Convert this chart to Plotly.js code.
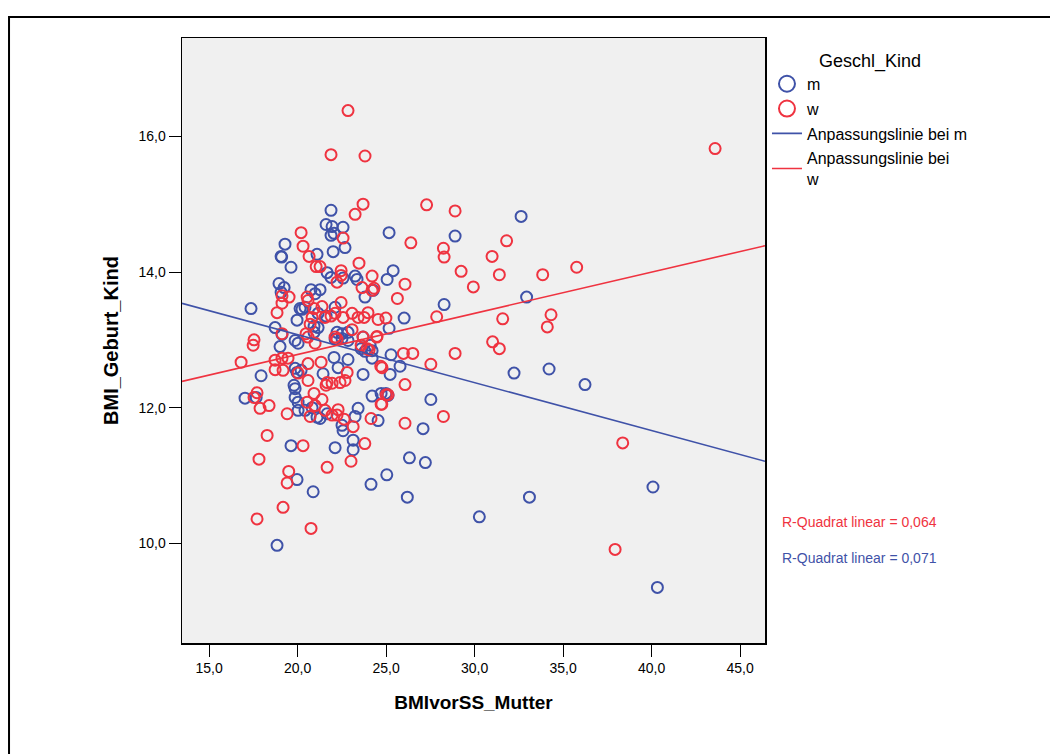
<!DOCTYPE html>
<html>
<head>
<meta charset="utf-8">
<script src="https://cdn.plot.ly/plotly-3.0.1.min.js"></script>
<style>html,body{margin:0;padding:0;background:#fff;}#chart{width:1050px;height:754px;}</style>
</head>
<body>
<div id="chart"></div>
<script>
// BMI of mother before pregnancy (x) vs BMI of child at birth (y)
const mX = [17.37,17.03,17.66,17.94,18.73,18.95,19.07,19.24,19.01,19.07,19.10,19.29,19.63,19.97,20.14,19.86,20.20,19.97,19.80,19.86,19.86,20.03,20.03,20.42,19.63,19.97,20.88,18.84,22.12,23.14,23.14,24.15,22.57,20.76,21.27,20.99,21.10,20.42,20.25,21.16,21.61,22.12,20.93,21.16,19.12,19.86,20.03,20.93,22.23,22.51,22.85,22.12,22.51,22.85,23.70,24.10,24.21,23.59,23.81,25.28,24.21,25.79,25.23,21.44,22.29,22.85,22.06,23.70,20.82,21.10,21.27,21.67,22.51,23.25,23.42,24.21,24.55,24.72,24.99,25.11,27.09,26.32,27.22,25.04,26.20,30.27,33.10,40.08,40.33,21.89,21.61,21.95,22.57,21.89,22.06,22.68,22.01,21.67,21.89,22.57,23.25,23.36,23.81,25.17,25.06,25.40,26.02,25.17,24.27,32.94,28.28,32.23,34.21,27.53,36.24,32.63,28.90];
const mY = [13.46,12.14,12.15,12.47,13.18,13.83,13.70,13.77,12.90,14.23,14.22,14.41,14.07,13.29,13.46,12.58,12.55,12.52,12.33,12.28,12.15,12.08,11.96,11.96,11.44,10.94,10.76,9.97,11.41,11.52,11.38,10.87,11.66,13.74,13.74,13.68,14.26,13.48,13.45,13.39,13.35,13.48,13.20,13.18,13.08,12.99,12.95,13.11,13.11,13.09,13.11,13.01,13.02,12.99,13.04,12.92,12.84,12.87,12.83,12.78,12.73,12.61,12.49,12.50,12.59,12.71,12.74,12.49,12.00,11.86,11.84,11.91,11.74,11.87,11.99,12.17,11.81,12.21,12.21,12.18,11.69,11.26,11.19,11.01,10.68,10.39,10.68,10.83,9.35,14.91,14.70,14.67,14.66,14.54,14.57,14.36,14.30,13.99,13.92,13.91,13.94,13.89,13.63,14.58,13.89,14.02,13.32,13.17,13.73,13.63,13.52,12.51,12.57,12.12,12.34,14.82,14.53];
const wX = [22.85,21.89,23.81,43.59,23.70,27.29,28.90,23.25,20.20,22.57,31.81,26.40,20.31,28.24,28.28,30.99,20.65,21.05,21.27,22.46,23.47,29.24,31.40,33.85,35.77,29.93,26.07,25.64,22.23,22.46,23.64,24.21,24.32,24.21,27.86,31.59,34.32,34.11,24.47,25.98,26.51,28.90,31.02,31.40,27.53,24.70,26.07,25.00,24.76,26.07,28.24,38.37,37.94,16.81,17.54,17.49,17.71,17.54,17.88,18.39,18.28,17.82,20.31,19.50,19.41,19.18,17.71,20.76,21.67,23.02,23.80,18.84,19.12,19.52,19.12,18.73,19.12,19.46,18.73,19.18,19.41,20.54,20.59,20.93,21.38,22.46,22.12,21.89,21.55,22.57,23.08,23.42,23.76,23.98,20.82,20.71,24.55,24.99,23.08,23.70,22.12,20.48,20.59,19.12,20.99,22.23,24.49,23.59,23.93,24.77,20.03,20.59,20.59,21.33,22.80,22.68,22.40,21.95,21.67,21.61,20.93,21.38,20.99,20.54,20.71,21.55,22.29,22.63,23.14,22.23,21.95,25.11,24.72,24.15,24.04];
const wY = [16.38,15.73,15.71,15.82,15.00,14.99,14.90,14.85,14.58,14.50,14.46,14.43,14.38,14.35,14.22,14.23,14.23,14.08,14.08,14.02,14.13,14.01,13.96,13.96,14.07,13.78,13.82,13.61,13.85,13.95,13.77,13.94,13.76,13.73,13.34,13.31,13.37,13.19,13.04,12.80,12.80,12.80,12.97,12.87,12.64,12.61,12.34,12.19,12.05,11.77,11.87,11.48,9.91,12.67,13.00,12.92,12.22,12.15,11.99,12.03,11.59,11.24,11.44,11.06,10.89,10.53,10.36,10.22,11.12,11.21,11.47,13.40,13.65,13.63,13.54,12.70,12.73,12.73,12.56,12.55,11.91,13.63,13.58,13.46,13.49,13.55,13.39,13.35,13.33,13.33,13.39,13.33,13.33,13.40,13.33,13.23,13.30,13.32,13.15,13.04,13.04,13.09,13.04,13.09,12.95,13.01,13.05,12.92,12.87,12.59,12.51,12.65,12.40,12.67,12.52,12.40,12.37,12.36,12.37,12.33,12.21,12.12,12.03,12.08,11.87,11.96,11.97,11.83,11.72,11.89,11.89,12.19,12.05,11.84,12.85];

// Fit lines (intercept, slope)
const fitM = [14.49, -0.0707];
const fitW = [11.57, 0.0607];
const xRange = [13.47, 46.41];
const yRange = [8.53, 17.45];
const xTicks = [15, 20, 25, 30, 35, 40, 45];
const yTicks = [10, 12, 14, 16];
const rSquared = ['0,064', '0,071'];

const BLUE = '#3f52a8';
const RED = '#ef3340';
const FONT = 'Liberation Sans, Arial, sans-serif';

const pts = (x, y, c) => ({
  type: 'scatter', mode: 'markers', x: x, y: y, showlegend: false, hoverinfo: 'skip',
  marker: {symbol: 'circle-open', size: 11, color: c, line: {width: 2, color: c}}
});
const fit = (p, c) => ({
  type: 'scatter', mode: 'lines', x: xRange, y: xRange.map(v => p[0] + p[1] * v),
  showlegend: false, hoverinfo: 'skip', line: {color: c, width: 1.6}
});
const legM = (name, c, g) => ({type: 'scatter', mode: 'markers', x: [null], y: [null], name: name, legendgroup: g,
  marker: {symbol: 'circle-open', size: 16, color: c, line: {width: 2, color: c}}});
const legL = (name, c, g) => ({type: 'scatter', mode: 'lines', x: [null], y: [null], name: name, legendgroup: g,
  line: {color: c, width: 1.6}});

const data = [
  pts(mX, mY, BLUE), pts(wX, wY, RED), fit(fitM, BLUE), fit(fitW, RED),
  legM('m', BLUE, 'a'), legM('w', RED, 'b'),
  legL('Anpassungslinie bei m', BLUE, 'c'), legL('Anpassungslinie bei<br>w', RED, 'd')
];

const layout = {
  width: 1050, height: 754,
  margin: {l: 182, r: 285, t: 38, b: 111},
  paper_bgcolor: '#ffffff', plot_bgcolor: '#f0f0f0',
  separators: ',.',
  font: {family: FONT, size: 13, color: '#000'},
  xaxis: {
    range: xRange, tickvals: xTicks, tickformat: '.1f', ticks: 'outside', ticklen: 12,
    tickcolor: '#000', showgrid: false, zeroline: false, showline: true, linecolor: '#000', linewidth: 1.5,
    mirror: true, tickfont: {size: 14},
    title: {text: '<b>BMIvorSS_Mutter</b>', font: {size: 19}, standoff: 20}
  },
  yaxis: {
    range: yRange, tickvals: yTicks, tickformat: '.1f', ticks: 'outside', ticklen: 12,
    tickcolor: '#000', showgrid: false, zeroline: false, showline: true, linecolor: '#000', linewidth: 1.5,
    mirror: true, tickfont: {size: 14},
    title: {text: '<b>BMI_Geburt_Kind</b>', font: {size: 20}, standoff: 14}
  },
  showlegend: true,
  legend: {
    x: 1.0034, y: 0.991, xanchor: 'left', yanchor: 'top', bgcolor: 'rgba(0,0,0,0)',
    font: {size: 16}, itemsizing: 'trace', tracegroupgap: 1,
    title: {text: 'Geschl_Kind', side: 'top center', font: {size: 18}}
  },
  annotations: [
    {xref: 'paper', yref: 'paper', x: 1.026, y: 0.2, xanchor: 'left', yanchor: 'middle',
     text: 'R-Quadrat linear = ' + rSquared[0], showarrow: false, font: {size: 14, color: RED}},
    {xref: 'paper', yref: 'paper', x: 1.026, y: 0.1405, xanchor: 'left', yanchor: 'middle',
     text: 'R-Quadrat linear = ' + rSquared[1], showarrow: false, font: {size: 14, color: BLUE}}
  ],
  shapes: [
    {type: 'rect', xref: 'paper', yref: 'paper', x0: -0.2967, x1: 1.5, y0: -0.3, y1: 1.0347,
     line: {color: '#000', width: 2}, fillcolor: 'rgba(0,0,0,0)', layer: 'below'}
  ]
};

Plotly.newPlot('chart', data, layout, {displayModeBar: false, staticPlot: true});
</script>
</body>
</html>
